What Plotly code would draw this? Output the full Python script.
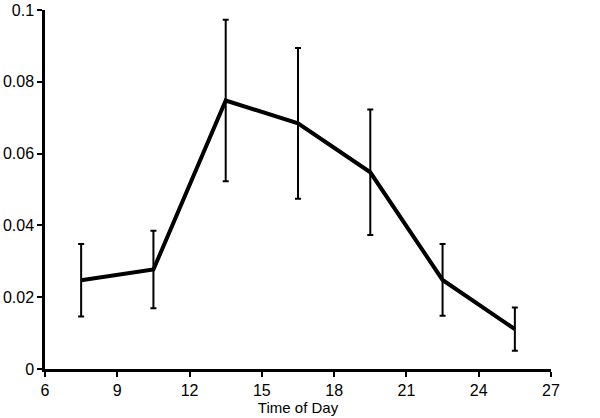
import plotly.graph_objects as go

time_of_day = [7.5, 10.5, 13.5, 16.5, 19.5, 22.5, 25.5]
mean_values = [0.0247, 0.0277, 0.0748, 0.0684, 0.0548, 0.0248, 0.0111]
error_values = [0.0101, 0.0108, 0.0225, 0.0210, 0.0175, 0.0100, 0.0060]
x_ticks = [6, 9, 12, 15, 18, 21, 24, 27]
y_ticks = [0, 0.02, 0.04, 0.06, 0.08, 0.1]
y_tick_labels = ["0", "0.02", "0.04", "0.06", "0.08", "0.1"]

fig = go.Figure()
fig.add_trace(go.Scatter(
    x=time_of_day, y=mean_values, mode="lines",
    line=dict(color="black", width=4),
    error_y=dict(type="data", array=error_values, visible=True,
                 color="black", thickness=2, width=3),
    showlegend=False,
))

font = dict(family="Liberation Sans, Arial, sans-serif", size=16, color="black")
fig.update_layout(
    width=600, height=418,
    margin=dict(l=45, r=49, t=10, b=49),
    paper_bgcolor="white", plot_bgcolor="white",
    font=font,
)
fig.update_xaxes(
    range=[6, 27], tickvals=x_ticks, ticktext=[str(v) for v in x_ticks],
    showgrid=False, zeroline=False, showline=True, linecolor="black", linewidth=2.5,
    ticks="outside", ticklen=5, tickwidth=2, tickcolor="black", automargin=False,
    title=dict(text="Time of Day", font=dict(family="Liberation Sans, Arial, sans-serif", size=15, color="black"), standoff=0),
)
fig.update_yaxes(
    range=[0, 0.1], tickvals=y_ticks, ticktext=y_tick_labels,
    showgrid=False, zeroline=False, showline=True, linecolor="black", linewidth=2.5,
    ticks="outside", ticklen=5, tickwidth=2, tickcolor="black", automargin=False,
)

fig.write_html("out.html", config={"displayModeBar": False},
               post_script="document.body.style.margin='0';")
